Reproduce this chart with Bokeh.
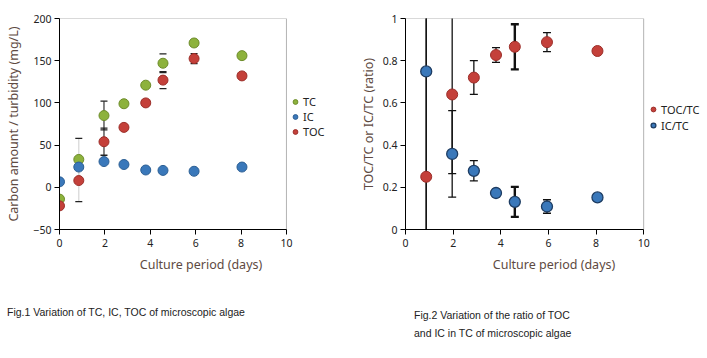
from bokeh.plotting import figure
from bokeh.models import Legend, LegendItem, FixedTicker, ColumnDataSource, BoxAnnotation, Div
from bokeh.layouts import row, column
from bokeh.embed import file_html
from bokeh.resources import INLINE

# ---------------- data: Fig.1 ----------------
days1 = [0.0, 0.85, 1.96, 2.84, 3.80, 4.56, 5.93, 8.04]
tc = [-14, 33, 85, 99, 121, 147, 171, 156]
ic = [6.5, 24, 30.5, 27, 20.5, 20, 19, 24]
toc = [-22, 8, 54, 71, 100, 127, 152.5, 132]
tc_err = [0, 25, 17, 0, 0, 11, 4, 0]
toc_err = [0, 25, 16, 0, 0, 10, 6, 0]

# ---------------- data: Fig.2 ----------------
days2 = [0.87, 1.96, 2.87, 3.80, 4.59, 5.94, 8.06]
toc_ratio = [0.25, 0.64, 0.72, 0.827, 0.866, 0.888, 0.846]
ic_ratio = [0.749, 0.358, 0.278, 0.173, 0.131, 0.109, 0.152]
toc_ratio_err = [0.8, 0.375, 0.08, 0.035, 0.107, 0.045, 0.0]
ic_ratio_err = [0.8, 0.205, 0.048, 0.018, 0.071, 0.032, 0.0]

x_ticks = [0, 2, 4, 6, 8, 10]
y1_ticks = [-50, 0, 50, 100, 150, 200]
y2_ticks = [0, 0.2, 0.4, 0.6, 0.8, 1.0]

caption1_lines = ["Fig.1 Variation of TC, IC, TOC of microscopic algae"]
caption2_lines = ["Fig.2 Variation of the ratio of TOC", "and IC in TC of microscopic algae"]

# ---------------- styles / layout ----------------
FONT = "Noto Sans"
CAP_FONT = "Liberation Sans"
LABEL_COLOR = "#5e4a42"
TC_FILL, TC_LINE = "#8db23c", "#6d8c2a"
IC_FILL, IC_LINE = "#3a78ba", "#2c5f94"
TOC_FILL, TOC_LINE = "#c4403a", "#9c2e29"
IC_LINE2 = "#1e3d63"
stem_colors1 = ["#ffffff", "#d6d6d6", "#333333", "#ffffff", "#ffffff", "#ffffff", "#333333", "#ffffff"]
bar_widths2 = [1.3, 1.3, 1.3, 1.3, 2.4, 1.3, 1.3]
X_VIEW_END = 12.47   # frame extends right of x=10 to leave room for the legend
CAP_STYLE = {"font-family": CAP_FONT, "font-size": "10.5px", "line-height": "18px", "color": "#222222"}


def style(p, y_ticks):
    p.grid.visible = False
    p.outline_line_color = None
    p.background_fill_color = "white"
    p.border_fill_color = "white"
    # box around the data area (x 0-10, full y range)
    p.add_layout(BoxAnnotation(left=x_ticks[0], right=x_ticks[-1], bottom=y_ticks[0], top=y_ticks[-1],
                               fill_color=None, line_color="black", line_width=1))
    for ax in (p.xaxis[0], p.yaxis[0]):
        ax.axis_line_color = "black"
        ax.major_tick_line_color = "black"
        ax.major_tick_out = 5
        ax.major_tick_in = 0
        ax.minor_tick_line_color = None
        ax.major_label_text_font = FONT
        ax.major_label_text_font_size = "10.5px"
        ax.major_label_text_color = "#222222"
        ax.major_label_standoff = 3
        ax.axis_label_text_font = FONT
        ax.axis_label_text_font_size = "12.5px"
        ax.axis_label_text_font_style = "normal"
        ax.axis_label_text_color = LABEL_COLOR
    p.xaxis.ticker = FixedTicker(ticks=x_ticks)
    p.xaxis.bounds = (x_ticks[0], x_ticks[-1])
    p.yaxis.ticker = FixedTicker(ticks=y_ticks)
    p.xaxis.major_label_standoff = 4
    p.xaxis.axis_label = "Culture period (days)"
    p.xaxis.axis_label_standoff = 6


def make_legend(p, items, loc, h):
    leg = Legend(items=items, location=loc, orientation="vertical", margin=0, padding=0,
                 spacing=0, glyph_width=12, glyph_height=h, label_height=h, label_standoff=2,
                 label_text_font=FONT, label_text_font_size="11px", label_text_color="#222222",
                 border_line_color=None, background_fill_alpha=0)
    p.add_layout(leg)


# ---------------- Fig.1 ----------------
p1 = figure(frame_width=283, frame_height=211, x_range=(0, X_VIEW_END), y_range=(y1_ticks[0], y1_ticks[-1]),
            output_backend="svg", toolbar_location=None,
            min_border_left=59, min_border_top=18, min_border_right=0, min_border_bottom=50)
style(p1, y1_ticks)
p1.yaxis.axis_label = "Carbon amount / turbidity (mg/L)"
p1.yaxis.axis_label_standoff = 8

src1 = ColumnDataSource(dict(
    x=days1, tc=tc, ic=ic, toc=toc,
    tc_lo=[v - e for v, e in zip(tc, tc_err)], tc_hi=[v + e for v, e in zip(tc, tc_err)],
    toc_lo=[v - e for v, e in zip(toc, toc_err)], toc_hi=[v + e for v, e in zip(toc, toc_err)],
    stem=stem_colors1,
))
p1.segment(x0="x", y0="tc_lo", x1="x", y1="tc_hi", source=src1, line_color="stem", line_width=1.2)
p1.segment(x0="x", y0="toc_lo", x1="x", y1="toc_hi", source=src1, line_color="stem", line_width=1.2)
for col, errs in (("tc_hi", tc_err), ("tc_lo", tc_err), ("toc_hi", toc_err), ("toc_lo", toc_err)):
    keep = [i for i, e in enumerate(errs) if e > 0]
    p1.scatter(x=[days1[i] for i in keep], y=[src1.data[col][i] for i in keep],
               marker="dash", size=7, line_color="#222222", line_width=1.3)

r_tc = p1.scatter("x", "tc", source=src1, size=10, fill_color=TC_FILL, line_color=TC_LINE, line_width=1)
r_ic = p1.scatter("x", "ic", source=src1, size=10, fill_color=IC_FILL, line_color=IC_LINE, line_width=1)
r_toc = p1.scatter("x", "toc", source=src1, size=10, fill_color=TOC_FILL, line_color=TOC_LINE, line_width=1)

make_legend(p1, [LegendItem(label="TC", renderers=[r_tc]),
                 LegendItem(label="IC", renderers=[r_ic]),
                 LegendItem(label="TOC", renderers=[r_toc])], (230, 90), 15)

# ---------------- Fig.2 ----------------
p2 = figure(frame_width=297, frame_height=211, x_range=(0, X_VIEW_END), y_range=(y2_ticks[0], y2_ticks[-1]),
            output_backend="svg", toolbar_location=None,
            min_border_left=63, min_border_top=18, min_border_right=0, min_border_bottom=50)
style(p2, y2_ticks)
p2.yaxis.major_label_overrides = {0: "0", 1: "1"}
p2.yaxis.axis_label = "TOC/TC or IC/TC (ratio)"
p2.yaxis.axis_label_standoff = 3

src2 = ColumnDataSource(dict(
    x=days2, toc=toc_ratio, ic=ic_ratio,
    toc_lo=[v - e for v, e in zip(toc_ratio, toc_ratio_err)], toc_hi=[v + e for v, e in zip(toc_ratio, toc_ratio_err)],
    ic_lo=[v - e for v, e in zip(ic_ratio, ic_ratio_err)], ic_hi=[v + e for v, e in zip(ic_ratio, ic_ratio_err)],
    w=bar_widths2,
))
p2.segment(x0="x", y0="toc_lo", x1="x", y1="toc_hi", source=src2, line_color="#111111", line_width="w")
p2.segment(x0="x", y0="ic_lo", x1="x", y1="ic_hi", source=src2, line_color="#111111", line_width="w")
for col, errs in (("toc_hi", toc_ratio_err), ("toc_lo", toc_ratio_err), ("ic_hi", ic_ratio_err), ("ic_lo", ic_ratio_err)):
    keep = [i for i, e in enumerate(errs) if e > 0]
    p2.scatter(x=[days2[i] for i in keep], y=[src2.data[col][i] for i in keep],
               marker="dash", size=8, line_color="#111111", line_width=[bar_widths2[i] for i in keep])

r_tr = p2.scatter("x", "toc", source=src2, size=11, fill_color=TOC_FILL, line_color=TOC_LINE, line_width=1)
r_ir = p2.scatter("x", "ic", source=src2, size=11, fill_color=IC_FILL, line_color=IC_LINE2, line_width=1.3)

make_legend(p2, [LegendItem(label="TOC/TC", renderers=[r_tr]),
                 LegendItem(label="IC/TC", renderers=[r_ir])], (242, 96), 16)

# ---------------- captions ----------------
cap1 = Div(text="<br>".join(caption1_lines), width=335, height=40, margin=(24, 0, 0, 7), styles=CAP_STYLE)
cap2 = Div(text="<br>".join(caption2_lines), width=288, height=40, margin=(27, 0, 0, 72), styles=CAP_STYLE)

layout = column(row(p1, p2), row(cap1, cap2))
open("out.html", "w").write(file_html(layout, INLINE))
